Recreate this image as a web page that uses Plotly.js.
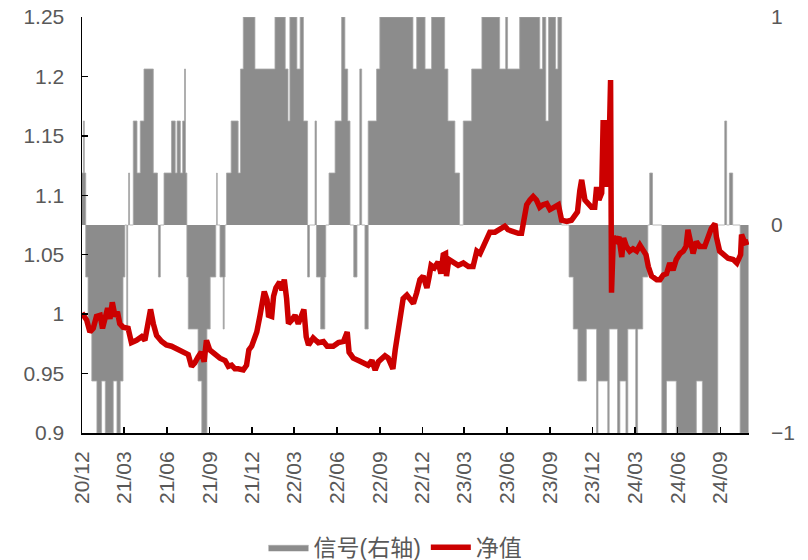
<!DOCTYPE html>
<html><head><meta charset="utf-8">
<script src="https://cdn.plot.ly/plotly-3.0.1.min.js"></script>
<style>html,body{margin:0;padding:0;background:#fff}#chart{width:808px;height:560px}</style>
</head><body><div id="chart"></div>
<script>
// 净值 (left axis)
const navDates = ["2020-12-01","2020-12-11","2020-12-18","2020-12-25","2021-01-01","2021-01-09","2021-01-14","2021-01-19","2021-01-25","2021-01-30","2021-02-04","2021-02-10","2021-02-15","2021-02-20","2021-02-27","2021-03-10","2021-03-17","2021-03-28","2021-04-08","2021-04-15","2021-04-22","2021-04-27","2021-05-03","2021-05-10","2021-05-21","2021-05-31","2021-06-11","2021-06-25","2021-07-10","2021-07-17","2021-07-24","2021-07-31","2021-08-07","2021-08-14","2021-08-20","2021-08-25","2021-09-01","2021-09-12","2021-09-23","2021-10-04","2021-10-11","2021-10-18","2021-10-25","2021-11-01","2021-11-12","2021-11-19","2021-11-24","2021-11-30","2021-12-07","2021-12-11","2021-12-18","2021-12-27","2022-01-02","2022-01-05","2022-01-12","2022-01-16","2022-01-21","2022-01-29","2022-02-03","2022-02-08","2022-02-13","2022-02-17","2022-02-24","2022-03-03","2022-03-10","2022-03-18","2022-03-22","2022-03-27","2022-04-01","2022-04-11","2022-04-22","2022-05-03","2022-05-11","2022-05-24","2022-06-04","2022-06-15","2022-06-23","2022-06-27","2022-07-06","2022-07-17","2022-07-28","2022-08-07","2022-08-15","2022-08-22","2022-08-29","2022-09-05","2022-09-12","2022-09-19","2022-09-29","2022-10-04","2022-10-11","2022-10-16","2022-10-21","2022-10-29","2022-11-05","2022-11-12","2022-11-19","2022-11-26","2022-12-03","2022-12-11","2022-12-16","2022-12-20","2022-12-27","2023-01-04","2023-01-10","2023-01-15","2023-01-20","2023-01-22","2023-01-27","2023-02-06","2023-02-16","2023-02-27","2023-03-10","2023-03-20","2023-03-28","2023-04-04","2023-04-11","2023-04-18","2023-04-25","2023-05-06","2023-05-17","2023-05-27","2023-06-03","2023-06-14","2023-06-25","2023-07-02","2023-07-07","2023-07-13","2023-07-20","2023-07-27","2023-08-03","2023-08-10","2023-08-17","2023-08-25","2023-09-01","2023-09-08","2023-09-19","2023-09-26","2023-10-07","2023-10-17","2023-10-24","2023-10-30","2023-11-04","2023-11-08","2023-11-15","2023-11-22","2023-11-29","2023-12-06","2023-12-10","2023-12-15","2023-12-21","2023-12-24","2023-12-28","2023-12-30","2024-01-02","2024-01-04","2024-01-09","2024-01-11","2024-01-15","2024-01-22","2024-01-27","2024-02-02","2024-02-06","2024-02-12","2024-02-19","2024-02-26","2024-03-05","2024-03-12","2024-03-19","2024-03-25","2024-03-30","2024-04-06","2024-04-17","2024-04-24","2024-05-01","2024-05-08","2024-05-15","2024-05-22","2024-05-29","2024-06-06","2024-06-13","2024-06-19","2024-06-23","2024-06-27","2024-07-04","2024-07-11","2024-07-18","2024-07-29","2024-08-05","2024-08-12","2024-08-20","2024-08-23","2024-08-30","2024-09-06","2024-09-17","2024-09-28","2024-10-06","2024-10-14","2024-10-16","2024-10-23","2024-10-31"];
const navValues = [1.001,0.995,0.985,0.988,0.998,0.999,0.988,0.995,1.005,0.996,1.010,0.998,1.002,0.992,0.989,0.988,0.976,0.978,0.981,0.978,0.995,1.004,0.992,0.982,0.977,0.974,0.973,0.970,0.968,0.966,0.956,0.959,0.964,0.968,0.960,0.978,0.970,0.966,0.963,0.961,0.956,0.957,0.954,0.954,0.953,0.957,0.970,0.973,0.981,0.985,0.999,1.019,1.012,0.999,0.998,1.015,1.022,1.027,1.020,1.029,1.013,0.992,0.995,0.999,0.992,1.002,1.004,0.981,0.974,0.980,0.976,0.977,0.973,0.973,0.976,0.977,0.985,0.968,0.963,0.961,0.959,0.957,0.961,0.953,0.960,0.963,0.965,0.963,0.954,0.970,0.989,0.995,1.013,1.016,1.013,1.009,1.018,1.029,1.032,1.022,1.032,1.041,1.039,1.044,1.034,1.050,1.051,1.032,1.046,1.044,1.041,1.043,1.040,1.040,1.053,1.051,1.058,1.064,1.069,1.069,1.071,1.074,1.071,1.069,1.068,1.068,1.079,1.092,1.096,1.099,1.096,1.090,1.092,1.093,1.088,1.090,1.092,1.079,1.078,1.079,1.083,1.086,1.104,1.113,1.096,1.093,1.090,1.090,1.107,1.096,1.102,1.161,1.161,1.107,1.144,1.107,1.197,1.018,1.065,1.062,1.065,1.048,1.064,1.057,1.053,1.055,1.053,1.058,1.053,1.050,1.040,1.032,1.029,1.029,1.033,1.034,1.043,1.037,1.046,1.051,1.053,1.057,1.071,1.062,1.051,1.061,1.057,1.057,1.065,1.072,1.076,1.065,1.053,1.050,1.047,1.046,1.043,1.050,1.067,1.060,1.061];

// 信号 (right axis), step changes
const sigDates = ["2020-12-01","2020-12-04","2020-12-06","2020-12-09","2020-12-14","2020-12-22","2021-01-02","2021-01-12","2021-01-20","2021-02-06","2021-02-14","2021-02-21","2021-02-27","2021-03-03","2021-03-07","2021-03-09","2021-03-11","2021-03-13","2021-03-21","2021-03-29","2021-04-05","2021-04-13","2021-05-03","2021-05-12","2021-05-14","2021-05-18","2021-05-26","2021-06-11","2021-06-19","2021-06-23","2021-06-30","2021-07-05","2021-07-09","2021-07-11","2021-07-14","2021-07-17","2021-08-07","2021-08-15","2021-08-26","2021-09-02","2021-09-14","2021-09-16","2021-09-17","2021-09-23","2021-09-30","2021-10-02","2021-10-04","2021-10-07","2021-10-17","2021-11-01","2021-11-06","2021-11-12","2021-12-07","2022-01-19","2022-02-10","2022-02-16","2022-02-20","2022-03-07","2022-03-14","2022-03-21","2022-03-30","2022-04-03","2022-04-15","2022-04-18","2022-04-27","2022-05-06","2022-05-08","2022-05-15","2022-05-28","2022-06-11","2022-06-18","2022-06-24","2022-06-29","2022-07-07","2022-07-14","2022-07-20","2022-07-24","2022-07-31","2022-08-07","2022-08-25","2022-09-01","2022-11-11","2022-11-19","2022-12-07","2022-12-21","2023-01-18","2023-01-25","2023-02-09","2023-02-19","2023-02-27","2023-03-17","2023-04-08","2023-05-16","2023-05-29","2023-06-02","2023-06-28","2023-08-10","2023-08-16","2023-08-23","2023-08-29","2023-09-13","2023-09-18","2023-09-26","2023-10-12","2023-10-21","2023-10-31","2023-11-18","2023-12-10","2023-12-13","2024-01-03","2024-01-06","2024-01-24","2024-01-29","2024-02-11","2024-02-15","2024-03-03","2024-03-07","2024-03-18","2024-03-29","2024-04-02","2024-04-08","2024-04-28","2024-05-08","2024-05-29","2024-07-11","2024-07-24","2024-08-26","2024-09-10","2024-09-14","2024-09-20","2024-09-27","2024-10-13","2024-10-31"];
const sigValues = [0.25,0.5,0.25,-0.25,-0.5,-0.75,-1,-0.75,-1,-0.75,-1,-0.75,-0.25,0,-0.5,0,0.25,0,0.5,0.25,0.5,0.75,0.25,0,-0.25,0,0.25,0.5,0.25,0.5,0.25,0.5,0.75,0.25,-0.25,-0.5,-0.75,-1,-0.5,-0.25,0,0.25,0,-0.25,-0.5,-0.25,0,0.25,0.5,0.25,0.75,1,0.75,1,0.75,0.5,1,0.75,1,0.5,-0.25,0,0.5,-0.25,-0.5,-0.25,0,0.25,0.5,1,0.75,0.5,0,-0.25,0,0.75,0,-0.5,0.5,0.75,1,0.75,1,0.75,1,0.75,0.5,0.25,0,0.5,0.75,1,0.75,1,0.75,1,0.75,1,0.5,1,0.75,1,0,-0.25,-0.5,-0.75,-0.5,-1,-0.75,-1,-0.5,-1,-0.75,-1,-0.5,-1,-0.5,-0.25,0,0.25,0,-1,-0.75,-1,-0.75,-1,0,0.5,0,0.25,0,-1,-1];

// x tick labels
const tickDates = ["2020-12-01","2021-03-01","2021-06-01","2021-09-01","2021-12-01","2022-03-01","2022-06-01","2022-09-01","2022-12-01","2023-03-01","2023-06-01","2023-09-01","2023-12-01","2024-03-01","2024-06-01","2024-09-01"];
const tickLabels = ["20/12","21/03","21/06","21/09","21/12","22/03","22/06","22/09","22/12","23/03","23/06","23/09","23/12","24/03","24/06","24/09"];
const leftTicks = [0.9,0.95,1,1.05,1.1,1.15,1.2,1.25];
const leftTickText = ["0.9","0.95","1","1.05","1.1","1.15","1.2","1.25"];
const rightTicks = [-1,0,1];

const FONT = "Liberation Sans, Arial, Noto Sans CJK SC, sans-serif";
const GREY_TXT = "#595959";

// signal on the base y axis (right side), net value on the overlaying axis (left side) so the line is drawn on top
const traces = [
  {x: sigDates, y: sigValues, name: "信号(右轴)", yaxis: "y", type: "scatter", mode: "lines",
   line: {shape: "hv", width: 0.8, color: "#a8a8a8"}, fill: "tozeroy", fillcolor: "#8c8c8c"},
  {x: navDates, y: navValues, name: "净值", yaxis: "y2", type: "scatter", mode: "lines",
   line: {color: "#cc0000", width: 5.5}}
];

const layout = {
  width: 808, height: 560,
  margin: {l: 82, r: 59, t: 17, b: 127, autoexpand: false},
  paper_bgcolor: "#fff", plot_bgcolor: "#fff",
  font: {family: FONT, size: 21, color: GREY_TXT},
  showlegend: true,
  legend: {orientation: "h", x: 0.47, xanchor: "center", y: -0.275, yanchor: "middle",
           font: {family: FONT, size: 23, color: GREY_TXT}, itemwidth: 40},
  xaxis: {type: "date", range: ["2020-12-01", "2024-11-01"], tickvals: tickDates, ticktext: tickLabels,
          tickangle: -90, ticks: "inside", ticklen: 6, tickcolor: "#000", tickwidth: 1.5,
          showline: true, linecolor: "#000", linewidth: 2, showgrid: false, zeroline: false,
          automargin: false, ticklabelstandoff: 8,
          tickfont: {family: FONT, size: 21, color: GREY_TXT}},
  yaxis: {range: [-1, 1], side: "right", tickvals: rightTicks,
          showline: false, ticks: "", showgrid: false, zeroline: false, automargin: false,
          tickfont: {family: FONT, size: 21, color: GREY_TXT}, ticklabelstandoff: 21},
  yaxis2: {range: [0.9, 1.25], overlaying: "y", side: "left", tickvals: leftTicks, ticktext: leftTickText,
           ticks: "inside", ticklen: 6, tickcolor: "#000", tickwidth: 1.5,
           showline: true, linecolor: "#000", linewidth: 1.5, showgrid: false, zeroline: false, automargin: false,
           tickfont: {family: FONT, size: 21, color: GREY_TXT}, ticklabelstandoff: 12}
};

Plotly.newPlot("chart", traces, layout, {displayModeBar: false, staticPlot: true});
</script>
</body></html>
